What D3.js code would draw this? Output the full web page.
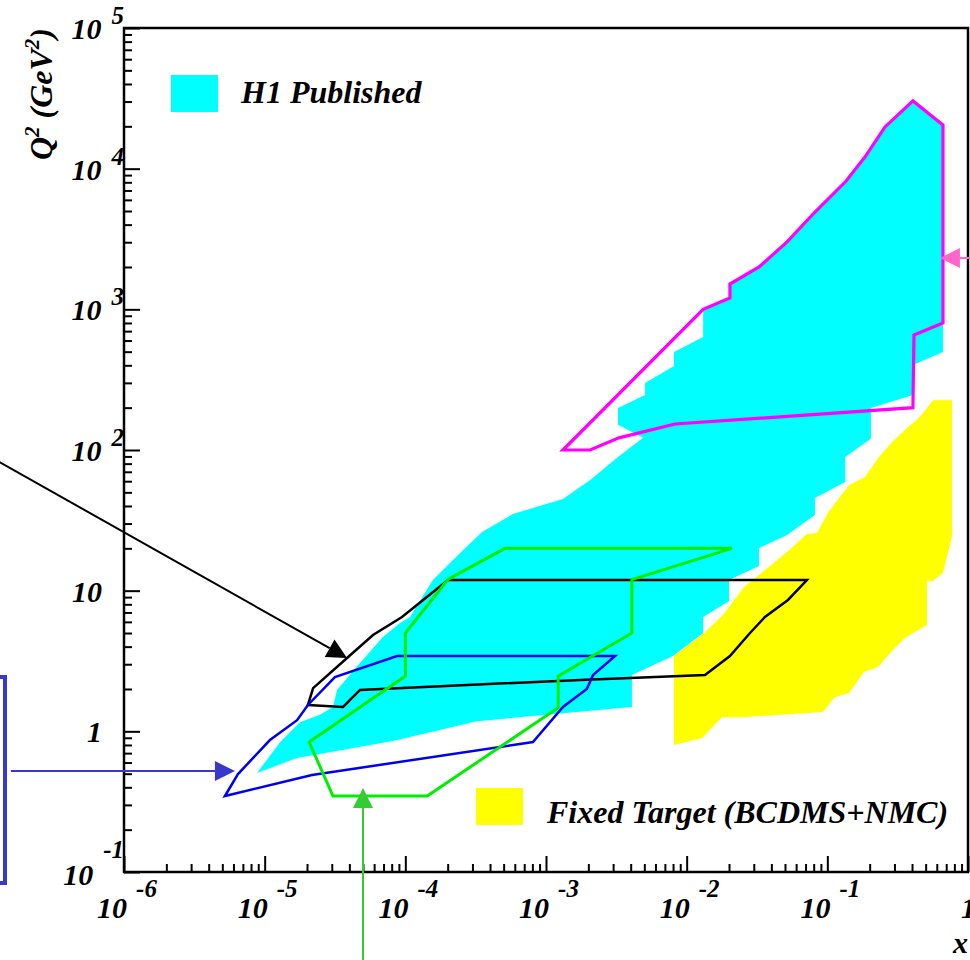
<!DOCTYPE html>
<html>
<head>
<meta charset="utf-8">
<script src="https://cdn.jsdelivr.net/npm/d3@7"></script>
<style>
  html, body { margin: 0; padding: 0; background: #fff; }
  svg { display: block; }
  text { font-family: "Liberation Serif", "Times New Roman", serif; font-weight: bold; font-style: italic; fill: #000; }
</style>
</head>
<body>
<svg id="chart" width="970" height="960"></svg>
<script>
// Kinematic regions in the (x, Q^2) plane, vertices as [x, Q2 (GeV^2)]
const h1Published = [
  [8.82e-6, 0.506], [1.29e-5, 0.839], [1.78e-5, 1.16], [2.47e-5, 1.31], [3.06e-5, 1.49],
  [3.27e-5, 1.97], [4.76e-5, 3.06], [6.94e-5, 4.69], [9.16e-5, 5.89], [1.08e-4, 6.50],
  [1.57e-4, 11.9], [2.45e-4, 18.5], [3.51e-4, 26.1], [5.82e-4, 35.1], [1.32e-3, 44.9],
  [2.06e-3, 61.2], [3.25e-3, 89.1], [4.90e-3, 122], [3.25e-3, 151], [3.25e-3, 199],
  [5.06e-3, 246], [5.06e-3, 299], [8.13e-3, 395], [8.13e-3, 498], [1.31e-2, 635],
  [1.31e-2, 989], [2.03e-2, 1205], [2.03e-2, 1514], [3.27e-2, 2000], [5.17e-2, 3013],
  [8.17e-2, 4920], [0.136, 8170], [0.185, 12100], [0.257, 19800], [0.406, 30300],
  [0.664, 20400], [0.664, 498], [0.406, 402], [0.406, 246], [0.204, 199],
  [0.204, 120], [0.134, 89.1], [0.134, 59.3], [8.17e-2, 45.6], [8.17e-2, 34.5],
  [5.17e-2, 24.9], [3.27e-2, 20.1], [3.27e-2, 15.0], [2.00e-2, 11.9], [2.00e-2, 8.45],
  [1.31e-2, 6.50], [1.31e-2, 5.00], [8.0e-3, 3.43], [4.08e-3, 2.51], [4.08e-3, 1.49],
  [3.23e-4, 1.18], [8.17e-5, 0.853], [1.70e-5, 0.646]
];

const fixedTarget = [
  [0.564, 226], [0.769, 226], [0.769, 24.1], [0.664, 13.4], [0.564, 11.7],
  [0.511, 11.7], [0.511, 5.70], [0.356, 4.61], [0.288, 3.72], [0.229, 2.87],
  [0.182, 2.64], [0.143, 1.87], [0.113, 1.75], [9.31e-2, 1.37], [2.51e-2, 1.26],
  [1.78e-2, 1.26], [1.29e-2, 0.897], [8.13e-3, 0.80], [8.13e-3, 3.43], [1.33e-2, 5.00],
  [1.81e-2, 6.71], [2.56e-2, 10.6], [5.17e-2, 18.8], [7.16e-2, 25.3], [8.43e-2, 25.7],
  [0.103, 36.8], [0.143, 56.4], [0.185, 64.3], [0.233, 89.1], [0.288, 114],
  [0.356, 139], [0.456, 172]
];

const regionMagenta = [
  [1.32e-3, 100], [1.31e-2, 1000], [2.03e-2, 1205], [2.03e-2, 1514], [3.27e-2, 2000],
  [5.17e-2, 3013], [8.17e-2, 4920], [0.136, 8170], [0.185, 12100], [0.257, 19800],
  [0.406, 30300], [0.664, 20400], [0.664, 800], [0.413, 657], [0.406, 200],
  [8.26e-3, 153], [3.30e-3, 122], [2.06e-3, 100]
];

const regionGreen = [
  [2.07e-5, 0.84], [3.06e-5, 0.347], [1.43e-4, 0.347], [1.22e-3, 1.47], [1.22e-3, 2.47],
  [4.08e-3, 5.0], [4.08e-3, 12], [2.1e-2, 20], [5.11e-4, 20], [2.01e-4, 12],
  [1.0e-4, 5.0], [1.0e-4, 2.47]
];

const regionBlack = [
  [2.03e-5, 1.54], [3.61e-5, 1.49], [4.76e-5, 1.97], [1.75e-3, 2.32], [1.35e-2, 2.51],
  [2.03e-2, 3.43], [2.82e-2, 5.0], [3.60e-2, 6.5], [5.25e-2, 8.59], [7.16e-2, 11.9],
  [2.01e-4, 11.9], [9.47e-5, 6.5], [5.89e-5, 4.84], [3.85e-5, 3.32], [2.21e-5, 2.03]
];

const regionBlue = [
  [5.22e-6, 0.347], [6.46e-6, 0.497], [1.09e-5, 0.867], [1.70e-5, 1.20], [2.03e-5, 1.54],
  [3.16e-5, 2.43], [8.73e-5, 3.43], [3.10e-3, 3.43], [2.16e-3, 2.51], [1.95e-3, 2.0],
  [1.32e-3, 1.49], [8.08e-4, 0.84], [2.17e-5, 0.489]
];

// Annotation arrows: [x0, Q2_0] -> [x1, Q2_1] (tip)
const arrowBlack = [[1.2e-7, 86], [3.85e-5, 3.32]];
const arrowBlue  = [[1.57e-7, 0.522], [6.15e-6, 0.522]];
const arrowGreen = [[5.0e-5, 0.0237], [5.0e-5, 0.395]];
const arrowPink  = [[1.12, 2317], [0.632, 2317]];

// Axis ticks and labels ([mantissa text, exponent text])
const xTicks = [1e-6, 1e-5, 1e-4, 1e-3, 1e-2, 1e-1, 1];
const xTickLabels = [["10", "-6"], ["10", "-5"], ["10", "-4"], ["10", "-3"], ["10", "-2"], ["10", "-1"], ["1", ""]];
const yTicks = [1e-1, 1, 10, 1e2, 1e3, 1e4, 1e5];
const yTickLabels = [["10", "-1"], ["1", ""], ["10", ""], ["10", "2"], ["10", "3"], ["10", "4"], ["10", "5"]];

const legendItems = [
  { label: "H1 Published", color: "#00ffff" },
  { label: "Fixed Target (BCDMS+NMC)", color: "#ffff00" }
];

// ---------------------------------------------------------------
const svg = d3.select("#chart");
const plotL = 124, plotR = 968, plotT = 28, plotB = 872;

const x = d3.scaleLog().domain([1e-6, 1]).range([plotL, plotR]);
const y = d3.scaleLog().domain([1e-1, 1e5]).range([plotB, plotT]);

const line = d3.line().x(d => x(d[0])).y(d => y(d[1]));
const closed = pts => line(pts) + "Z";

function minorTicks(lo, hi) {
  const out = [];
  for (let e = Math.round(Math.log10(lo)); e < Math.round(Math.log10(hi)); e++)
    for (let m = 2; m <= 9; m++) out.push(m * Math.pow(10, e));
  return out;
}

// Filled areas
svg.append("path").attr("d", closed(h1Published)).attr("fill", "#00ffff");
svg.append("path").attr("d", closed(fixedTarget)).attr("fill", "#ffff00");

// Outlined regions
const outlines = [
  { pts: regionMagenta, color: "#ff00ff", w: 3.2 },
  { pts: regionBlack, color: "#000000", w: 2.5 },
  { pts: regionBlue, color: "#0000ee", w: 2.5 },
  { pts: regionGreen, color: "#00ee00", w: 3 }
];
outlines.forEach(o => {
  svg.append("path").attr("d", closed(o.pts))
    .attr("fill", "none").attr("stroke", o.color)
    .attr("stroke-width", o.w).attr("stroke-linejoin", "miter");
});

// Axes with inward ticks
const gx = svg.append("g").attr("transform", `translate(0,${plotB})`);
gx.call(d3.axisBottom(x).tickValues(xTicks).tickSize(-16).tickFormat(""));
gx.append("g").call(d3.axisBottom(x).tickValues(minorTicks(1e-6, 1)).tickSize(-8).tickFormat(""));
const gy = svg.append("g").attr("transform", `translate(${plotL},0)`);
gy.call(d3.axisLeft(y).tickValues(yTicks).tickSize(-16).tickFormat(""));
gy.append("g").call(d3.axisLeft(y).tickValues(minorTicks(1e-1, 1e5)).tickSize(-8).tickFormat(""));
svg.selectAll(".domain").remove();
svg.selectAll(".tick line").attr("stroke", "#000").attr("stroke-width", 2);

// Frame
svg.append("rect").attr("x", plotL).attr("y", plotT)
  .attr("width", plotR - plotL).attr("height", plotB - plotT)
  .attr("fill", "none").attr("stroke", "#000").attr("stroke-width", 2.5);

// X tick labels
xTicks.forEach((v, i) => {
  const [base, exp] = xTickLabels[i];
  if (exp === "") {
    svg.append("text").attr("x", x(v) - 7).attr("y", 918)
      .attr("font-size", 30).text(base);
    return;
  }
  const t = svg.append("text").attr("x", x(v) + 3).attr("y", 918)
    .attr("text-anchor", "middle").attr("font-size", 30);
  t.append("tspan").text(base);
  t.append("tspan").attr("dx", 9).attr("dy", -21).attr("font-size", 25).text(exp);
});

// Y tick labels
yTicks.forEach((v, i) => {
  const [base, exp] = yTickLabels[i];
  const ty = y(v);
  if (exp === "") {
    svg.append("text").attr("x", 102).attr("y", ty + 11)
      .attr("text-anchor", "end").attr("font-size", 30).text(base);
    return;
  }
  const neg = exp.startsWith("-");
  const t = svg.append("text").attr("x", 124).attr("y", ty + (neg ? 13 : 11))
    .attr("text-anchor", "end").attr("font-size", 30);
  t.append("tspan").text(base);
  t.append("tspan").attr("dx", 10).attr("dy", neg ? -27 : -15).attr("font-size", 25).text(exp);
});

// Axis titles
const yt = svg.append("text").attr("transform", "translate(52,28) rotate(-90)")
  .attr("text-anchor", "end").attr("font-size", 32);
yt.append("tspan").text("Q");
yt.append("tspan").attr("dy", -13).attr("font-size", 21).text("2");
yt.append("tspan").attr("dy", 13).text(" (GeV");
yt.append("tspan").attr("dy", -13).attr("font-size", 21).text("2");
yt.append("tspan").attr("dy", 13).text(")");

svg.append("text").attr("x", 968).attr("y", 953).attr("text-anchor", "end")
  .attr("font-size", 30).text("x");

// Legend
const legendPos = [{ rx: 171, ry: 75, tx: 241, ty: 103 }, { rx: 476, ry: 788, tx: 547, ty: 823 }];
legendItems.forEach((it, i) => {
  const p = legendPos[i];
  svg.append("rect").attr("x", p.rx).attr("y", p.ry).attr("width", 47).attr("height", 37)
    .attr("fill", it.color);
  svg.append("text").attr("x", p.tx).attr("y", p.ty).attr("font-size", 32).text(it.label);
});

// Annotation arrows
function arrow(a, color, w) {
  const p0 = [x(a[0][0]), y(a[0][1])], p1 = [x(a[1][0]), y(a[1][1])];
  const dx = p1[0] - p0[0], dy = p1[1] - p0[1];
  const len = Math.hypot(dx, dy), ux = dx / len, uy = dy / len;
  const L = 20, W = 10;
  const bx = p1[0] - ux * L, by = p1[1] - uy * L;
  svg.append("line").attr("x1", p0[0]).attr("y1", p0[1]).attr("x2", bx).attr("y2", by)
    .attr("stroke", color).attr("stroke-width", w);
  svg.append("path")
    .attr("d", `M${p1[0]},${p1[1]}L${bx - uy * W},${by + ux * W}L${bx + uy * W},${by - ux * W}Z`)
    .attr("fill", color);
}
arrow(arrowBlack, "#000000", 2);
arrow(arrowBlue, "#3838cc", 2);
arrow(arrowGreen, "#33cc33", 2);
arrow(arrowPink, "#ff66cc", 2);

// Annotation box at the left margin
svg.append("rect").attr("x", -100).attr("y", 677).attr("width", 105).attr("height", 206)
  .attr("fill", "none").attr("stroke", "#3838cc").attr("stroke-width", 4);
</script>
</body>
</html>
